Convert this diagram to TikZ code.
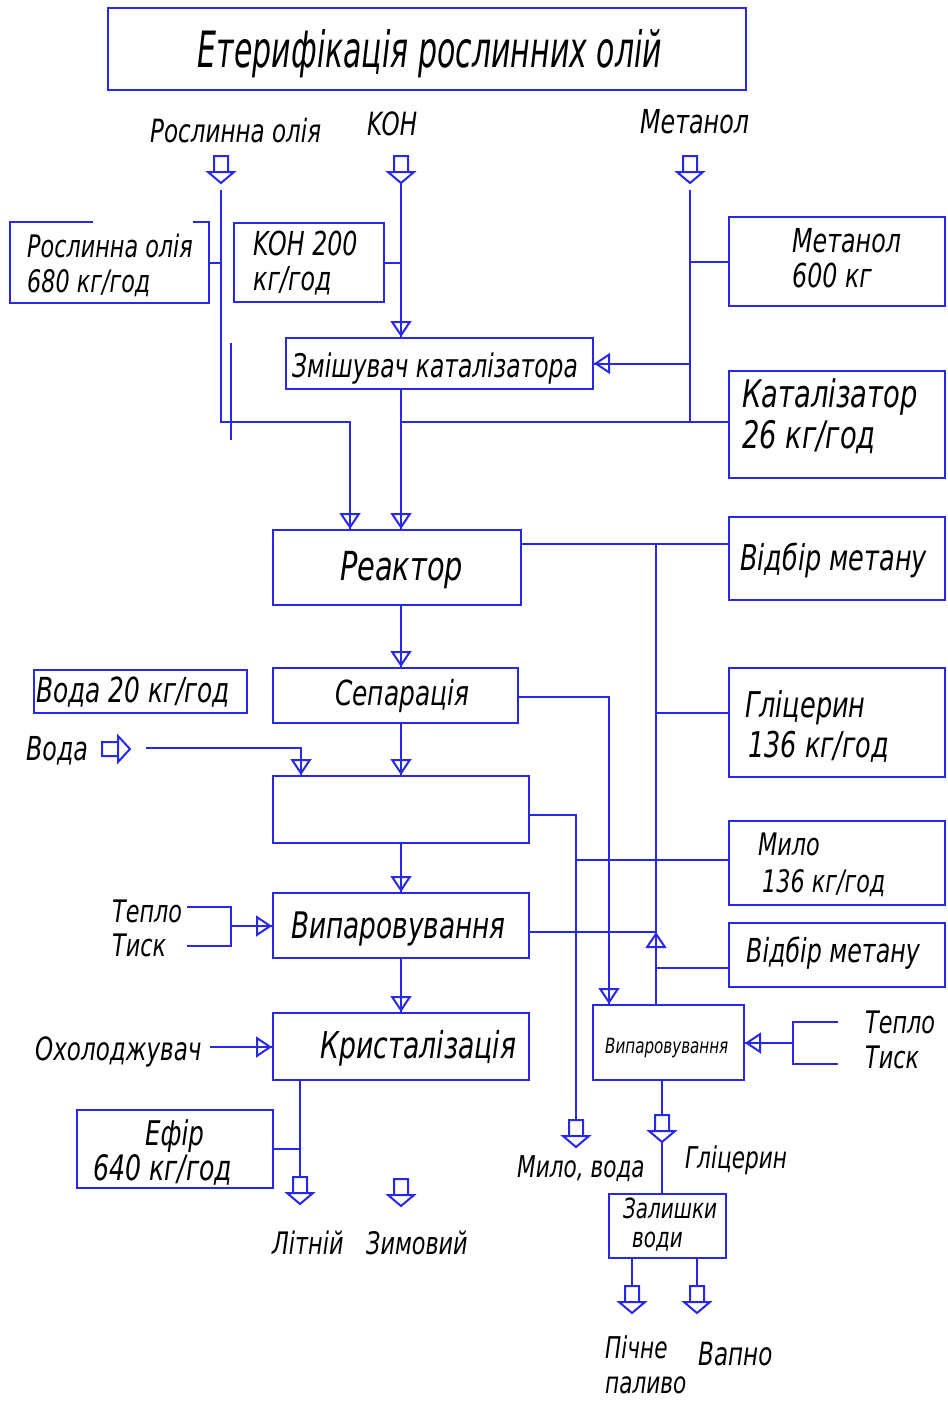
\documentclass[tikz,border=0pt]{standalone}
\usepackage{fontspec}
\setmainfont{DejaVu Sans}[FakeStretch=0.72]
\newfontfamily\titlefont{DejaVu Sans}[FakeStretch=0.6]
\usetikzlibrary{arrows.meta}
\definecolor{lblue}{RGB}{40,40,235}
\tikzset{
  ln/.style={draw=lblue, line width=2pt, line join=miter},
  box/.style={ln, rectangle, inner sep=0pt},
  flow/.style={ln, -{Triangle[open, length=16pt, width=21pt]},
               postaction={draw=lblue, line width=2pt, arrows=-}},
  lbl/.style={font=\fontsize{#1}{#1}\selectfont\itshape, text=black,
              inner sep=0pt, anchor=base west},
  blockdown/.pic={\draw[ln] (-7,0) rectangle (7,16) (-13,16) -- (13,16) -- (0,27) -- cycle;},
  blockright/.pic={\draw[ln] (0,-7) rectangle (16,7) (16,-13) -- (16,13) -- (28,0) -- cycle;}
}
\begin{document}
\begin{tikzpicture}[x=1pt,y=-1pt]
\fill[white] (0,0) rectangle (948,1406);
\useasboundingbox (0,0) rectangle (948,1406);

% ---------- boxes ----------
\node[box, minimum width=638, minimum height=82] (title) at (427,49) {};
\node[box, draw=none, minimum width=197, minimum height=79] (oil) at (109.5,262.5) {};
\draw[ln] ([xshift=83pt]oil.north west) -- (oil.north west) -- (oil.south west)
          -- (oil.south east) -- (oil.north east) -- ([xshift=-16pt]oil.north east);
\node[box, minimum width=150, minimum height=79] (koh) at (309,262.5) {};
\node[box, minimum width=216, minimum height=89] (meth) at (837,261.5) {};
\node[box, minimum width=307, minimum height=51] (mixer) at (439.5,363.5) {};
\node[box, minimum width=216, minimum height=107] (cat) at (837,424.5) {};
\node[box, minimum width=248, minimum height=75] (reactor) at (397,567.5) {};
\node[box, minimum width=216, minimum height=83] (vm1) at (837,558.5) {};
\node[box, minimum width=245, minimum height=55] (sep) at (395.5,695.5) {};
\node[box, minimum width=213, minimum height=43] (water) at (140.5,691.5) {};
\node[box, minimum width=216, minimum height=109] (gly) at (837,722.5) {};
\node[box, minimum width=256, minimum height=67] (wash) at (401,809.5) {};
\node[box, minimum width=216, minimum height=84] (milo) at (837,863) {};
\node[box, minimum width=256, minimum height=65] (evapL) at (401,925.5) {};
\node[box, minimum width=216, minimum height=64] (vm2) at (837,955) {};
\node[box, minimum width=256, minimum height=67] (cryst) at (401,1046.5) {};
\node[box, minimum width=151, minimum height=75] (evap2) at (668.5,1042.5) {};
\node[box, minimum width=196, minimum height=78] (efir) at (175,1149) {};
\node[box, minimum width=117, minimum height=64] (resid) at (667.5,1226) {};

% ---------- texts ----------
\node[lbl=50, font=\titlefont\fontsize{50}{50}\selectfont\itshape, anchor=base] (tTitle) at (430,67) {Етерифікація рослинних олій};
\node[lbl=32] (tOilIn) at (150,142) {Рослинна олія};
\node[lbl=32] (tKohIn) at (367,135) {KOH};
\node[lbl=33] (tMethIn) at (640,133) {Метанол};
\node[lbl=31] (tOil1) at (27,257) {Рослинна олія};
\node[lbl=31] (tOil2) at (27,292) {680 кг/год};
\node[lbl=33] (tKoh1) at (253,255) {KOH 200};
\node[lbl=33] (tKoh2) at (253,290) {кг/год};
\node[lbl=33] (tMeth1) at (792,252) {Метанол};
\node[lbl=33] (tMeth2) at (792,287) {600 кг};
\node[lbl=32.5] (tMixer) at (292,377) {Змішувач каталізатора};
\node[lbl=38] (tCat1) at (742,407) {Каталізатор};
\node[lbl=38] (tCat2) at (742,448) {26 кг/год};
\node[lbl=40] (tReactor) at (340,580) {Реактор};
\node[lbl=35.5] (tVm1) at (740,570) {Відбір метану};
\node[lbl=34.5] (tSep) at (335,705) {Сепарація};
\node[lbl=34.5] (tWater20) at (36,702) {Вода 20 кг/год};
\node[lbl=33] (tWater) at (26,760) {Вода};
\node[lbl=35.5] (tGly1) at (745,717) {Гліцерин};
\node[lbl=35.5] (tGly2) at (748,757) {136 кг/год};
\node[lbl=31] (tMilo1) at (758,855) {Мило};
\node[lbl=31] (tMilo2) at (762,892) {136 кг/год};
\node[lbl=36.6] (tEvapL) at (291,938) {Випаровування};
\node[lbl=33] (tVm2) at (746,962) {Відбір метану};
\node[lbl=31] (tHeatL) at (112,922) {Тепло};
\node[lbl=31] (tPressL) at (112,956) {Тиск};
\node[lbl=37] (tCryst) at (320,1058) {Кристалізація};
\node[lbl=32] (tCool) at (35,1060) {Охолоджувач};
\node[lbl=34] (tEfir1) at (145,1145) {Ефір};
\node[lbl=35] (tEfir2) at (93,1180) {640 кг/год};
\node[lbl=31] (tSummer) at (272,1254) {Літній};
\node[lbl=31] (tWinter) at (366,1254) {Зимовий};
\node[lbl=21] (tEvap2) at (605,1053) {Випаровування};
\node[lbl=31] (tHeatR) at (865,1033) {Тепло};
\node[lbl=31] (tPressR) at (865,1068) {Тиск};
\node[lbl=30] (tSoap) at (517,1177) {Мило, вода};
\node[lbl=30] (tGlyOut) at (685,1168) {Гліцерин};
\node[lbl=27.7] (tResid1) at (623,1218) {Залишки};
\node[lbl=27.7] (tResid2) at (632,1247) {води};
\node[lbl=30] (tFuel1) at (605,1358) {Пічне};
\node[lbl=30] (tFuel2) at (605,1393) {паливо};
\node[lbl=32] (tLime) at (698,1365) {Вапно};

% ---------- feed inputs ----------
\pic at (221,156) {blockdown};
\pic at (401,156) {blockdown};
\pic at (690,156) {blockdown};
\coordinate (oilSrc) at (221,190);
\coordinate (kohSrc) at (401,183);
\coordinate (methSrc) at (690,190);
\coordinate (oilBend) at (221,422);
\coordinate (oilDrop) at (350,422);
\coordinate (methEnd) at (690,422);
\coordinate (tickA) at (231,343);
\coordinate (tickB) at (231,440);

\draw[flow] (oilSrc) -- (oilBend) -- (oilDrop) -- (oilDrop |- reactor.north);
\draw[ln] (oil.east) -- (oil.east -| oilSrc);
\draw[ln] (tickA) -- (tickB);

\draw[flow] (kohSrc) -- (kohSrc |- mixer.north);
\draw[ln] (koh.east) -- (koh.east -| kohSrc);

\draw[ln] (methSrc) -- (methEnd);
\draw[ln] (methSrc |- meth.west) -- (meth.west);
\draw[flow] (methSrc |- mixer.east) -- (mixer.east);

\draw[flow] (kohSrc |- mixer.south) -- (kohSrc |- reactor.north);
\draw[ln] (kohSrc |- oilDrop) -- (cat.west |- oilDrop);

% ---------- main chain ----------
\draw[flow] (kohSrc |- reactor.south) -- (kohSrc |- sep.north);
\draw[flow] (kohSrc |- sep.south) -- (kohSrc |- wash.north);
\draw[flow] (kohSrc |- wash.south) -- (kohSrc |- evapL.north);
\draw[flow] (kohSrc |- evapL.south) -- (kohSrc |- cryst.north);

% ---------- methanol recovery line ----------
\coordinate (vapTop) at (656,544);
\coordinate (vapIn) at (656,932);
\coordinate (glyTap) at (656,713);
\coordinate (vm2Tap) at (656,968);
\draw[ln] (reactor.east |- vapTop) -- (vm1.west |- vapTop);
\draw[ln] (vapTop) -- (vapIn);
\draw[flow] (vapTop |- evap2.north) -- (vapIn);
\draw[ln] (evapL.east |- vapIn) -- (vapIn);
\draw[ln] (glyTap) -- (gly.west |- glyTap);
\draw[ln] (vm2Tap) -- (vm2.west |- vm2Tap);

% ---------- glycerin phase from separation ----------
\coordinate (sepR) at (609,697);
\draw[flow] (sep.east |- sepR) -- (sepR) -- (sepR |- evap2.north);

% ---------- washing water ----------
\pic at (102,749) {blockright};
\coordinate (waterSrc) at (146,748);
\coordinate (waterDrop) at (301,748);
\draw[flow] (waterSrc) -- (waterDrop) -- (waterDrop |- wash.north);

% ---------- soap and water out ----------
\coordinate (washR) at (576,815);
\coordinate (soapOut) at (576,1120);
\coordinate (miloTap) at (576,860);
\draw[ln] (wash.east |- washR) -- (washR) -- (soapOut);
\pic at (soapOut) {blockdown};
\draw[ln] (miloTap) -- (milo.west |- miloTap);

% ---------- heat and pressure, left ----------
\coordinate (hl1) at (187,907);
\coordinate (hl2) at (231,907);
\coordinate (hl3) at (231,946);
\coordinate (hl4) at (187,946);
\coordinate (hlm) at (231,926);
\draw[ln] (hl1) -- (hl2) -- (hl3) -- (hl4);
\draw[flow] (hlm) -- (evapL.west |- hlm);

% ---------- coolant ----------
\coordinate (coolSrc) at (210,1047);
\draw[flow] (coolSrc) -- (cryst.west |- coolSrc);

% ---------- biodiesel outputs ----------
\coordinate (summer) at (300,1177);
\coordinate (winter) at (401,1179);
\draw[ln] (summer |- cryst.south) -- (summer);
\pic at (summer) {blockdown};
\pic at (winter) {blockdown};
\draw[ln] (efir.east) -- (efir.east -| summer);

% ---------- heat and pressure, right ----------
\coordinate (hr1) at (838,1022);
\coordinate (hr2) at (793,1022);
\coordinate (hr3) at (793,1064);
\coordinate (hr4) at (838,1064);
\coordinate (hrm) at (793,1043);
\draw[ln] (hr1) -- (hr2) -- (hr3) -- (hr4);
\draw[flow] (hrm) -- (evap2.east |- hrm);

% ---------- glycerin out ----------
\coordinate (glyOut) at (662,1115);
\coordinate (glyNext) at (662,1142);
\draw[ln] (glyOut |- evap2.south) -- (glyOut);
\pic at (glyOut) {blockdown};
\draw[ln] (glyNext) -- (glyNext |- resid.north);

% ---------- residue outputs ----------
\coordinate (fuel) at (632,1286);
\coordinate (lime) at (697,1286);
\draw[ln] (fuel |- resid.south) -- (fuel);
\draw[ln] (lime |- resid.south) -- (lime);
\pic at (fuel) {blockdown};
\pic at (lime) {blockdown};
\end{tikzpicture}
\end{document}
